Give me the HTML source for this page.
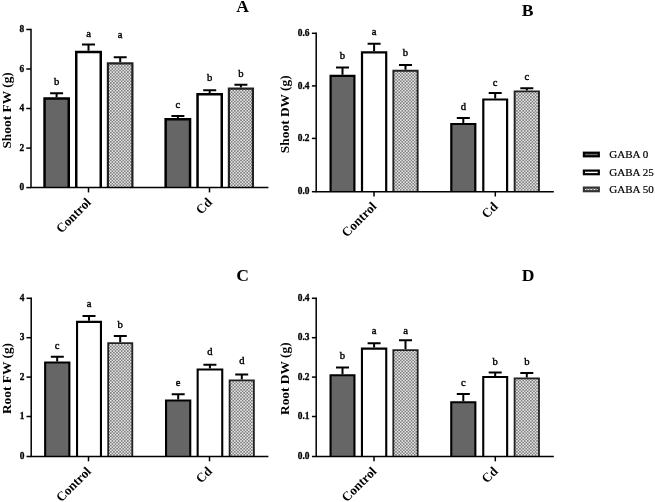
<!DOCTYPE html><html><head><meta charset="utf-8"><title>Figure</title><style>html,body{margin:0;padding:0;background:#fff}svg{display:block}text{font-family:"Liberation Serif","DejaVu Serif",serif;fill:#000}</style></head><body>
<svg width="655" height="502" viewBox="0 0 655 502">
<defs><pattern id="hx" width="3.1" height="3.1" patternUnits="userSpaceOnUse"><rect width="3.1" height="3.1" fill="#e6e6e6"/><rect width="1.55" height="1.55" fill="#7e7e7e"/><rect x="1.55" y="1.55" width="1.55" height="1.55" fill="#7e7e7e"/></pattern></defs>
<rect width="655" height="502" fill="#fff"/>
<path d="M56.6 97.3V93.2M50.1 93.2H63.1" stroke="#000" stroke-width="2" fill="none"/>
<path d="M44.55 187.6V98.55H68.75V187.6" fill="#666" stroke="#000" stroke-width="2.5"/>
<text x="56.6" y="85.4" font-size="10.6" stroke="#000" stroke-width="0.4" text-anchor="middle">b</text>
<path d="M88.5 50.8V44.6M82.0 44.6H95.0" stroke="#000" stroke-width="2" fill="none"/>
<path d="M76.25 187.6V52.05H100.75V187.6" fill="#fff" stroke="#000" stroke-width="2.5"/>
<text x="88.5" y="36.8" font-size="10.6" stroke="#000" stroke-width="0.4" text-anchor="middle">a</text>
<path d="M120.2 62.2V57.2M113.7 57.2H126.7" stroke="#000" stroke-width="2" fill="none"/>
<path d="M107.90 187.6V63.30H132.40V187.6" fill="url(#hx)" stroke="#222" stroke-width="2.2"/>
<text x="120.2" y="37.8" font-size="10.6" stroke="#000" stroke-width="0.4" text-anchor="middle">a</text>
<path d="M177.9 118.1V115.9M171.4 115.9H184.4" stroke="#000" stroke-width="2" fill="none"/>
<path d="M165.65 187.6V119.35H190.05V187.6" fill="#666" stroke="#000" stroke-width="2.5"/>
<text x="177.9" y="108.4" font-size="10.6" stroke="#000" stroke-width="0.4" text-anchor="middle">c</text>
<path d="M209.7 93.0V90.3M203.2 90.3H216.2" stroke="#000" stroke-width="2" fill="none"/>
<path d="M197.55 187.6V94.25H221.75V187.6" fill="#fff" stroke="#000" stroke-width="2.5"/>
<text x="209.7" y="81.4" font-size="10.6" stroke="#000" stroke-width="0.4" text-anchor="middle">b</text>
<path d="M240.9 87.5V84.8M234.4 84.8H247.4" stroke="#000" stroke-width="2" fill="none"/>
<path d="M228.90 187.6V88.60H252.90V187.6" fill="url(#hx)" stroke="#222" stroke-width="2.2"/>
<text x="240.9" y="77.1" font-size="10.6" stroke="#000" stroke-width="0.4" text-anchor="middle">b</text>
<path d="M31.0 28.8V187.6H268.4" stroke="#000" stroke-width="1.5" fill="none"/>
<path d="M26.3 187.6H31.0" stroke="#000" stroke-width="1.5"/>
<text x="24.3" y="190.2" font-size="9.4" font-weight="bold" stroke="#000" stroke-width="0.3" text-anchor="end">0</text>
<path d="M26.3 148.1H31.0" stroke="#000" stroke-width="1.5"/>
<text x="24.3" y="150.7" font-size="9.4" font-weight="bold" stroke="#000" stroke-width="0.3" text-anchor="end">2</text>
<path d="M26.3 108.5H31.0" stroke="#000" stroke-width="1.5"/>
<text x="24.3" y="111.1" font-size="9.4" font-weight="bold" stroke="#000" stroke-width="0.3" text-anchor="end">4</text>
<path d="M26.3 69.0H31.0" stroke="#000" stroke-width="1.5"/>
<text x="24.3" y="71.6" font-size="9.4" font-weight="bold" stroke="#000" stroke-width="0.3" text-anchor="end">6</text>
<path d="M26.3 29.5H31.0" stroke="#000" stroke-width="1.5"/>
<text x="24.3" y="32.1" font-size="9.4" font-weight="bold" stroke="#000" stroke-width="0.3" text-anchor="end">8</text>
<path d="M88.5 187.6V192.4" stroke="#000" stroke-width="1.5"/>
<text transform="translate(91.8,203.2) rotate(-45)" font-size="13" font-weight="bold" text-anchor="end">Control</text>
<path d="M209.5 187.6V192.4" stroke="#000" stroke-width="1.5"/>
<text transform="translate(212.8,203.2) rotate(-45)" font-size="13" font-weight="bold" text-anchor="end">Cd</text>
<text transform="translate(11,110.4) rotate(-90)" font-size="13.4" font-weight="bold" text-anchor="middle">Shoot FW (g)</text>
<text x="242.5" y="11.6" font-size="17.6" font-weight="bold" text-anchor="middle">A</text>
<path d="M342.5 74.8V67.6M336.0 67.6H349.0" stroke="#000" stroke-width="2" fill="none"/>
<path d="M330.60 191.7V75.90H354.40V191.7" fill="#666" stroke="#000" stroke-width="2.2"/>
<text x="342.5" y="59.0" font-size="10.6" stroke="#000" stroke-width="0.4" text-anchor="middle">b</text>
<path d="M374.1 51.2V43.8M367.6 43.8H380.6" stroke="#000" stroke-width="2" fill="none"/>
<path d="M362.00 191.7V52.30H386.20V191.7" fill="#fff" stroke="#000" stroke-width="2.2"/>
<text x="374.1" y="34.8" font-size="10.6" stroke="#000" stroke-width="0.4" text-anchor="middle">a</text>
<path d="M405.5 69.8V65.0M399.0 65.0H412.0" stroke="#000" stroke-width="2" fill="none"/>
<path d="M393.35 191.7V70.75H417.65V191.7" fill="url(#hx)" stroke="#222" stroke-width="1.9"/>
<text x="405.5" y="56.3" font-size="10.6" stroke="#000" stroke-width="0.4" text-anchor="middle">b</text>
<path d="M463.3 122.9V117.9M456.8 117.9H469.8" stroke="#000" stroke-width="2" fill="none"/>
<path d="M451.30 191.7V124.00H475.30V191.7" fill="#666" stroke="#000" stroke-width="2.2"/>
<text x="463.3" y="109.9" font-size="10.6" stroke="#000" stroke-width="0.4" text-anchor="middle">d</text>
<path d="M495.2 98.4V93.0M488.7 93.0H501.7" stroke="#000" stroke-width="2" fill="none"/>
<path d="M483.30 191.7V99.50H507.10V191.7" fill="#fff" stroke="#000" stroke-width="2.2"/>
<text x="495.2" y="85.7" font-size="10.6" stroke="#000" stroke-width="0.4" text-anchor="middle">c</text>
<path d="M526.8 90.4V88.2M520.3 88.2H533.3" stroke="#000" stroke-width="2" fill="none"/>
<path d="M514.65 191.7V91.35H538.95V191.7" fill="url(#hx)" stroke="#222" stroke-width="1.9"/>
<text x="526.8" y="80.2" font-size="10.6" stroke="#000" stroke-width="0.4" text-anchor="middle">c</text>
<path d="M316.2 32.5V191.7H553.8" stroke="#000" stroke-width="1.5" fill="none"/>
<path d="M311.9 191.7H316.2" stroke="#000" stroke-width="1.5"/>
<text x="309.5" y="194.3" font-size="9.4" font-weight="bold" stroke="#000" stroke-width="0.3" text-anchor="end">0.0</text>
<path d="M311.9 138.4H316.2" stroke="#000" stroke-width="1.5"/>
<text x="309.5" y="141.0" font-size="9.4" font-weight="bold" stroke="#000" stroke-width="0.3" text-anchor="end">0.2</text>
<path d="M311.9 85.9H316.2" stroke="#000" stroke-width="1.5"/>
<text x="309.5" y="88.5" font-size="9.4" font-weight="bold" stroke="#000" stroke-width="0.3" text-anchor="end">0.4</text>
<path d="M311.9 33.3H316.2" stroke="#000" stroke-width="1.5"/>
<text x="309.5" y="35.9" font-size="9.4" font-weight="bold" stroke="#000" stroke-width="0.3" text-anchor="end">0.6</text>
<path d="M374 191.7V196.5" stroke="#000" stroke-width="1.5"/>
<text transform="translate(377.3,207.3) rotate(-45)" font-size="13" font-weight="bold" text-anchor="end">Control</text>
<path d="M495.3 191.7V196.5" stroke="#000" stroke-width="1.5"/>
<text transform="translate(498.6,207.3) rotate(-45)" font-size="13" font-weight="bold" text-anchor="end">Cd</text>
<text transform="translate(289,114.2) rotate(-90)" font-size="13.4" font-weight="bold" text-anchor="middle">Shoot DW (g)</text>
<text x="527.7" y="15.7" font-size="17.6" font-weight="bold" text-anchor="middle">B</text>
<path d="M57.2 361.5V356.7M50.8 356.7H63.8" stroke="#000" stroke-width="2" fill="none"/>
<path d="M45.15 456.5V362.55H69.35V456.5" fill="#666" stroke="#000" stroke-width="2.1"/>
<text x="57.2" y="348.8" font-size="10.6" stroke="#000" stroke-width="0.4" text-anchor="middle">c</text>
<path d="M89.0 320.8V315.9M82.5 315.9H95.5" stroke="#000" stroke-width="2" fill="none"/>
<path d="M77.05 456.5V321.85H100.95V456.5" fill="#fff" stroke="#000" stroke-width="2.1"/>
<text x="89.0" y="307.2" font-size="10.6" stroke="#000" stroke-width="0.4" text-anchor="middle">a</text>
<path d="M120.2 342.3V336.1M113.8 336.1H126.8" stroke="#000" stroke-width="2" fill="none"/>
<path d="M108.20 456.5V343.20H132.30V456.5" fill="url(#hx)" stroke="#222" stroke-width="1.8"/>
<text x="120.2" y="327.5" font-size="10.6" stroke="#000" stroke-width="0.4" text-anchor="middle">b</text>
<path d="M178.2 399.4V394.3M171.7 394.3H184.7" stroke="#000" stroke-width="2" fill="none"/>
<path d="M166.05 456.5V400.45H190.25V456.5" fill="#666" stroke="#000" stroke-width="2.1"/>
<text x="178.2" y="386.2" font-size="10.6" stroke="#000" stroke-width="0.4" text-anchor="middle">e</text>
<path d="M209.9 368.4V364.7M203.4 364.7H216.4" stroke="#000" stroke-width="2" fill="none"/>
<path d="M197.65 456.5V369.45H222.25V456.5" fill="#fff" stroke="#000" stroke-width="2.1"/>
<text x="209.9" y="354.8" font-size="10.6" stroke="#000" stroke-width="0.4" text-anchor="middle">d</text>
<path d="M241.8 379.4V374.6M235.2 374.6H248.2" stroke="#000" stroke-width="2" fill="none"/>
<path d="M229.60 456.5V380.30H253.90V456.5" fill="url(#hx)" stroke="#222" stroke-width="1.8"/>
<text x="241.8" y="364.4" font-size="10.6" stroke="#000" stroke-width="0.4" text-anchor="middle">d</text>
<path d="M31.2 297.6V456.5H268.4" stroke="#000" stroke-width="1.5" fill="none"/>
<path d="M26.5 456.5H31.2" stroke="#000" stroke-width="1.5"/>
<text x="24.5" y="459.1" font-size="9.4" font-weight="bold" stroke="#000" stroke-width="0.3" text-anchor="end">0</text>
<path d="M26.5 416.5H31.2" stroke="#000" stroke-width="1.5"/>
<text x="24.5" y="419.1" font-size="9.4" font-weight="bold" stroke="#000" stroke-width="0.3" text-anchor="end">1</text>
<path d="M26.5 377.1H31.2" stroke="#000" stroke-width="1.5"/>
<text x="24.5" y="379.7" font-size="9.4" font-weight="bold" stroke="#000" stroke-width="0.3" text-anchor="end">2</text>
<path d="M26.5 337.7H31.2" stroke="#000" stroke-width="1.5"/>
<text x="24.5" y="340.3" font-size="9.4" font-weight="bold" stroke="#000" stroke-width="0.3" text-anchor="end">3</text>
<path d="M26.5 298.3H31.2" stroke="#000" stroke-width="1.5"/>
<text x="24.5" y="300.9" font-size="9.4" font-weight="bold" stroke="#000" stroke-width="0.3" text-anchor="end">4</text>
<path d="M88.5 456.5V461.3" stroke="#000" stroke-width="1.5"/>
<text transform="translate(91.8,472.1) rotate(-45)" font-size="13" font-weight="bold" text-anchor="end">Control</text>
<path d="M209.5 456.5V461.3" stroke="#000" stroke-width="1.5"/>
<text transform="translate(212.8,472.1) rotate(-45)" font-size="13" font-weight="bold" text-anchor="end">Cd</text>
<text transform="translate(10.6,378.5) rotate(-90)" font-size="13.4" font-weight="bold" text-anchor="middle">Root FW (g)</text>
<text x="242.7" y="280.6" font-size="17.6" font-weight="bold" text-anchor="middle">C</text>
<path d="M342.5 374.2V367.4M336.0 367.4H349.0" stroke="#000" stroke-width="2" fill="none"/>
<path d="M330.55 456.5V375.25H354.45V456.5" fill="#666" stroke="#000" stroke-width="2.1"/>
<text x="342.5" y="359.1" font-size="10.6" stroke="#000" stroke-width="0.4" text-anchor="middle">b</text>
<path d="M374.1 347.6V343.2M367.6 343.2H380.6" stroke="#000" stroke-width="2" fill="none"/>
<path d="M361.95 456.5V348.65H386.25V456.5" fill="#fff" stroke="#000" stroke-width="2.1"/>
<text x="374.1" y="334.4" font-size="10.6" stroke="#000" stroke-width="0.4" text-anchor="middle">a</text>
<path d="M405.5 349.3V340.3M399.0 340.3H412.0" stroke="#000" stroke-width="2" fill="none"/>
<path d="M393.30 456.5V350.20H417.70V456.5" fill="url(#hx)" stroke="#222" stroke-width="1.8"/>
<text x="405.5" y="334.4" font-size="10.6" stroke="#000" stroke-width="0.4" text-anchor="middle">a</text>
<path d="M463.3 401.2V394.1M456.8 394.1H469.8" stroke="#000" stroke-width="2" fill="none"/>
<path d="M451.25 456.5V402.25H475.35V456.5" fill="#666" stroke="#000" stroke-width="2.1"/>
<text x="463.3" y="386.2" font-size="10.6" stroke="#000" stroke-width="0.4" text-anchor="middle">c</text>
<path d="M495.2 375.9V372.4M488.7 372.4H501.7" stroke="#000" stroke-width="2" fill="none"/>
<path d="M483.25 456.5V376.95H507.15V456.5" fill="#fff" stroke="#000" stroke-width="2.1"/>
<text x="495.2" y="364.9" font-size="10.6" stroke="#000" stroke-width="0.4" text-anchor="middle">b</text>
<path d="M526.8 377.4V373.0M520.3 373.0H533.3" stroke="#000" stroke-width="2" fill="none"/>
<path d="M514.60 456.5V378.30H539.00V456.5" fill="url(#hx)" stroke="#222" stroke-width="1.8"/>
<text x="526.8" y="364.9" font-size="10.6" stroke="#000" stroke-width="0.4" text-anchor="middle">b</text>
<path d="M316.2 297.6V456.5H553.8" stroke="#000" stroke-width="1.5" fill="none"/>
<path d="M311.9 456.5H316.2" stroke="#000" stroke-width="1.5"/>
<text x="309.5" y="459.1" font-size="9.4" font-weight="bold" stroke="#000" stroke-width="0.3" text-anchor="end">0.0</text>
<path d="M311.9 416.5H316.2" stroke="#000" stroke-width="1.5"/>
<text x="309.5" y="419.1" font-size="9.4" font-weight="bold" stroke="#000" stroke-width="0.3" text-anchor="end">0.1</text>
<path d="M311.9 377.1H316.2" stroke="#000" stroke-width="1.5"/>
<text x="309.5" y="379.7" font-size="9.4" font-weight="bold" stroke="#000" stroke-width="0.3" text-anchor="end">0.2</text>
<path d="M311.9 337.7H316.2" stroke="#000" stroke-width="1.5"/>
<text x="309.5" y="340.3" font-size="9.4" font-weight="bold" stroke="#000" stroke-width="0.3" text-anchor="end">0.3</text>
<path d="M311.9 298.3H316.2" stroke="#000" stroke-width="1.5"/>
<text x="309.5" y="300.9" font-size="9.4" font-weight="bold" stroke="#000" stroke-width="0.3" text-anchor="end">0.4</text>
<path d="M374 456.5V461.3" stroke="#000" stroke-width="1.5"/>
<text transform="translate(377.3,472.1) rotate(-45)" font-size="13" font-weight="bold" text-anchor="end">Control</text>
<path d="M495.3 456.5V461.3" stroke="#000" stroke-width="1.5"/>
<text transform="translate(498.6,472.1) rotate(-45)" font-size="13" font-weight="bold" text-anchor="end">Cd</text>
<text transform="translate(289.2,378.7) rotate(-90)" font-size="13.4" font-weight="bold" text-anchor="middle">Root DW (g)</text>
<text x="528.2" y="280.6" font-size="17.6" font-weight="bold" text-anchor="middle">D</text>
<rect x="583.9" y="152.7" width="14.9" height="3.6" fill="#666" stroke="#000" stroke-width="2.2"/>
<text x="609.3" y="157.6" font-size="11.05" stroke="#000" stroke-width="0.2">GABA 0</text>
<rect x="583.9" y="170.6" width="14.9" height="3.6" fill="#fff" stroke="#000" stroke-width="2.2"/>
<text x="609.3" y="175.5" font-size="11.05" stroke="#000" stroke-width="0.2">GABA 25</text>
<rect x="583.9" y="187.6" width="14.9" height="3.6" fill="url(#hx)" stroke="#333" stroke-width="2.2"/>
<text x="609.3" y="192.5" font-size="11.05" stroke="#000" stroke-width="0.2">GABA 50</text>
</svg></body></html>
